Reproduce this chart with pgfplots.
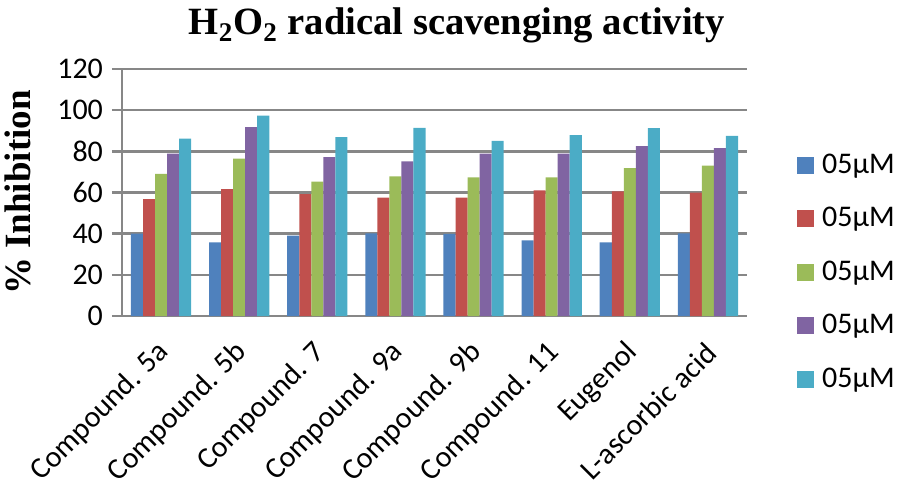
\documentclass[border=0pt]{standalone}
\usepackage{pgfplots}
\pgfplotsset{compat=1.18}
\usepackage{fontspec}
\setmainfont{Carlito}
\newfontfamily\timesbf{Liberation Serif}[BoldFont={Liberation Serif Bold}]

\definecolor{cA}{HTML}{4F81BD}
\definecolor{cB}{HTML}{C0504D}
\definecolor{cC}{HTML}{9BBB59}
\definecolor{cD}{HTML}{8064A2}
\definecolor{cE}{HTML}{4BACC6}
\definecolor{gridgray}{HTML}{878787}

\begin{document}
\begin{tikzpicture}
\begin{axis}[
  name=ax,
  scale only axis,
  width=312.5pt, height=123.5pt,
  ybar=0pt,
  bar width=0.154,
  xmin=-0.5, xmax=7.5,
  ymin=0, ymax=120,
  ytick={0,20,...,120},
  xtick={0,...,7},
  xticklabels={Compound. 5a,Compound. 5b,Compound. 7,Compound. 9a,Compound. 9b,Compound. 11,Eugenol,L-ascorbic acid},
  major x tick style={draw=none},
  extra x ticks={-0.5,0.5,...,7.5},
  extra x tick labels={},
  extra x tick style={major tick length=4pt, tick align=outside, tick style={draw=gridgray, line width=1.2pt}},
  axis x line=bottom, axis y line=left,
  axis line style={-, draw=gridgray, line width=1.2pt},
  ymajorgrids=true,
  grid style={draw=gridgray, line width=1.2pt},
  major tick length=5pt, tick align=outside,
  ytick style={draw=gridgray, line width=1.2pt},
  tick label style={font=\fontsize{15}{17}\selectfont},
  /pgf/number format/assume math mode=true,
  yticklabel style={xshift=-1pt},
  xticklabel style={xshift=4pt, yshift=-8.5pt, rotate=45, anchor=east},
  ylabel={\timesbf\bfseries\fontsize{18.5}{20}\selectfont \% Inhibition},
  every axis y label/.style={at={(axis description cs:-0.167,0.5)}, rotate=90, anchor=center},
  title={\timesbf\bfseries\fontsize{19.3}{21}\selectfont H\textsubscript{2}O\textsubscript{2} radical scavenging activity},
  every axis title/.style={at={(axis description cs:0.536,1.175)}, anchor=center},
  legend style={at={(axis description cs:1.07,0.69)}, anchor=north west, draw=none, fill=none,
    font=\fontsize{15}{17}\selectfont, row sep=11.5pt, legend cell align=left,
    nodes={inner xsep=4pt}},
  legend image code/.code={\fill[#1] (0pt,-4.25pt) rectangle (8.5pt,4.25pt);},
]
\addplot[fill=cA, draw=none] coordinates {(0,40) (1,35.8) (2,39.1) (3,40.2) (4,39.9) (5,36.8) (6,35.8) (7,40.2)};
\addplot[fill=cB, draw=none] coordinates {(0,56.8) (1,61.6) (2,59.2) (3,57.5) (4,57.5) (5,61.0) (6,60.6) (7,60.0)};
\addplot[fill=cC, draw=none] coordinates {(0,69.1) (1,76.4) (2,65.3) (3,67.8) (4,67.3) (5,67.3) (6,71.8) (7,73.1)};
\addplot[fill=cD, draw=none] coordinates {(0,78.9) (1,91.8) (2,77.2) (3,75.1) (4,78.9) (5,78.9) (6,82.5) (7,81.6)};
\addplot[fill=cE, draw=none] coordinates {(0,86.2) (1,97.3) (2,86.9) (3,91.4) (4,85.1) (5,87.9) (6,91.3) (7,87.5)};
\legend{05μM,05μM,05μM,05μM,05μM}
\end{axis}
\pgfresetboundingbox
\path (ax.south west) ++(-61pt,-83pt) rectangle ++(449pt,241pt);
\end{tikzpicture}
\end{document}
